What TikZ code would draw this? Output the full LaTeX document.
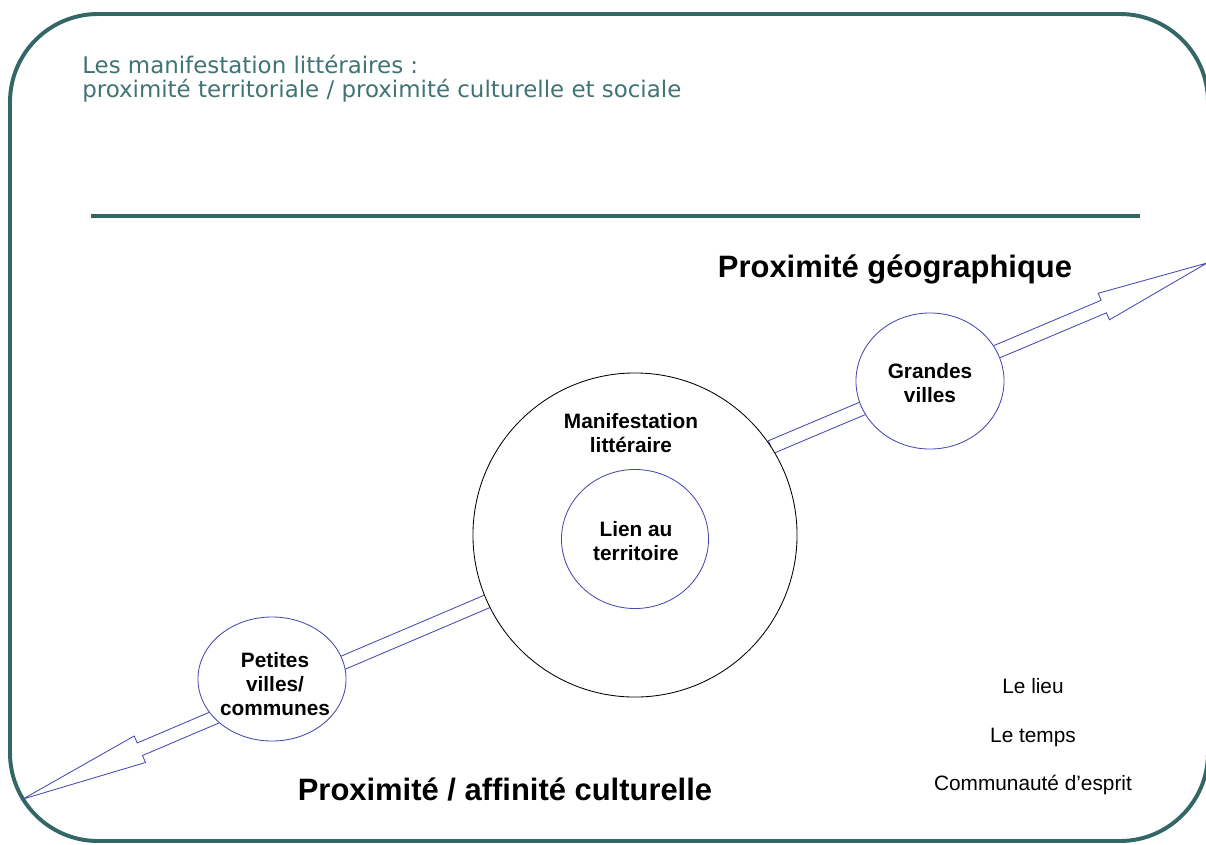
\documentclass[tikz,border=0pt]{standalone}
\usepackage{fontspec}
\setmainfont{Liberation Sans}
\newfontfamily\verdanafont{DejaVu Sans}
\usetikzlibrary{calc,shapes.geometric}

\definecolor{slideteal}{RGB}{51,102,102}
\definecolor{titleteal}{RGB}{64,115,115}
\definecolor{arrowblue}{RGB}{72,72,176}

\tikzset{
  slideframe/.style={draw=slideteal, line width=2.8pt, rounded corners=2.2cm},
  rule/.style={draw=slideteal, line width=3.5pt},
  titletext/.style={inner sep=0pt, text=titleteal, font=\verdanafont\fontsize{16.3}{17.5}\selectfont},
  bigtext/.style={inner sep=0pt, font=\bfseries\fontsize{22}{26}\selectfont},
  boldlbl/.style={inner sep=0pt, align=center, font=\bfseries\fontsize{14.8}{17}\selectfont},
  plainlbl/.style={inner sep=0pt, font=\fontsize{14.8}{17}\selectfont},
  arrowline/.style={draw=arrowblue, fill=white, line width=0.6pt, line join=miter},
  town/.style={ellipse, draw=arrowblue, fill=white, line width=0.6pt, inner sep=0pt},
  bigring/.style={circle, draw=black, fill=white, line width=0.6pt, inner sep=0pt}
}

% block arrow: start, tip, head length
\newcommand{\blockarrow}[3]{%
  \coordinate (neck) at ($(#2)!#3!(#1)$);
  \draw[arrowline] ($(#1)!0.17cm!90:(#2)$) -- ($(neck)!0.17cm!90:(#2)$)
    -- ($(neck)!0.36cm!90:(#2)$) -- (#2) -- ($(neck)!0.36cm!-90:(#2)$)
    -- ($(neck)!0.17cm!-90:(#2)$) -- ($(#1)!0.17cm!-90:(#2)$) -- cycle;
}

\begin{document}
\begin{tikzpicture}[x=0.025cm, y=-0.025cm]
  \useasboundingbox (0,0) rectangle (1206,844);

  % Frame and rule
  \draw[slideframe] (10,14) rectangle (1208,841);
  \draw[rule] (91,216) -- (1140,216);

  % Title
  \node (title1) [titletext, anchor=base west] at (82,73) {Les manifestation littéraires :};
  \node (title2) [titletext, anchor=base west] at (82,97) {proximité territoriale / proximité culturelle et sociale};

  % Arrow ends
  \coordinate (leftTip) at (23,799);
  \coordinate (leftStart) at (488,601);
  \coordinate (rightStart) at (771,447);
  \coordinate (rightTip) at (1207,263);

  % Arrows
  \blockarrow{leftStart}{leftTip}{3.175cm}
  \blockarrow{rightStart}{rightTip}{2.8cm}

  % Circles
  \node (manif) [bigring, minimum size=8.1cm] at (635,535) {};
  \node (lien) [town, minimum width=3.675cm, minimum height=3.475cm] at (635,539) {};
  \node (petites) [town, minimum width=3.7cm, minimum height=3.1cm] at (272,679) {};
  \node (grandes) [town, minimum width=3.7cm, minimum height=3.4cm] at (930,381) {};

  % Circle labels
  \node (manifText) [boldlbl] at (631,433) {Manifestation\\littéraire};
  \node (lienText) [boldlbl] at (636,541) {Lien au\\territoire};
  \node (petitesText) [boldlbl] at (275,684) {Petites\\ villes/\\communes};
  \node (grandesText) [boldlbl] at (930,383) {Grandes\\villes};

  % Axis labels
  \node (geoText) [bigtext, anchor=base] at (895,277) {Proximité géographique};
  \node (cultText) [bigtext, anchor=base] at (505,800) {Proximité / affinité culturelle};

  % Side list
  \node (lieu) [plainlbl, anchor=base] at (1033,693) {Le lieu};
  \node (temps) [plainlbl, anchor=base] at (1033,742) {Le temps};
  \node (esprit) [plainlbl, anchor=base] at (1033,790) {Communauté d’esprit};

\end{tikzpicture}
\end{document}
